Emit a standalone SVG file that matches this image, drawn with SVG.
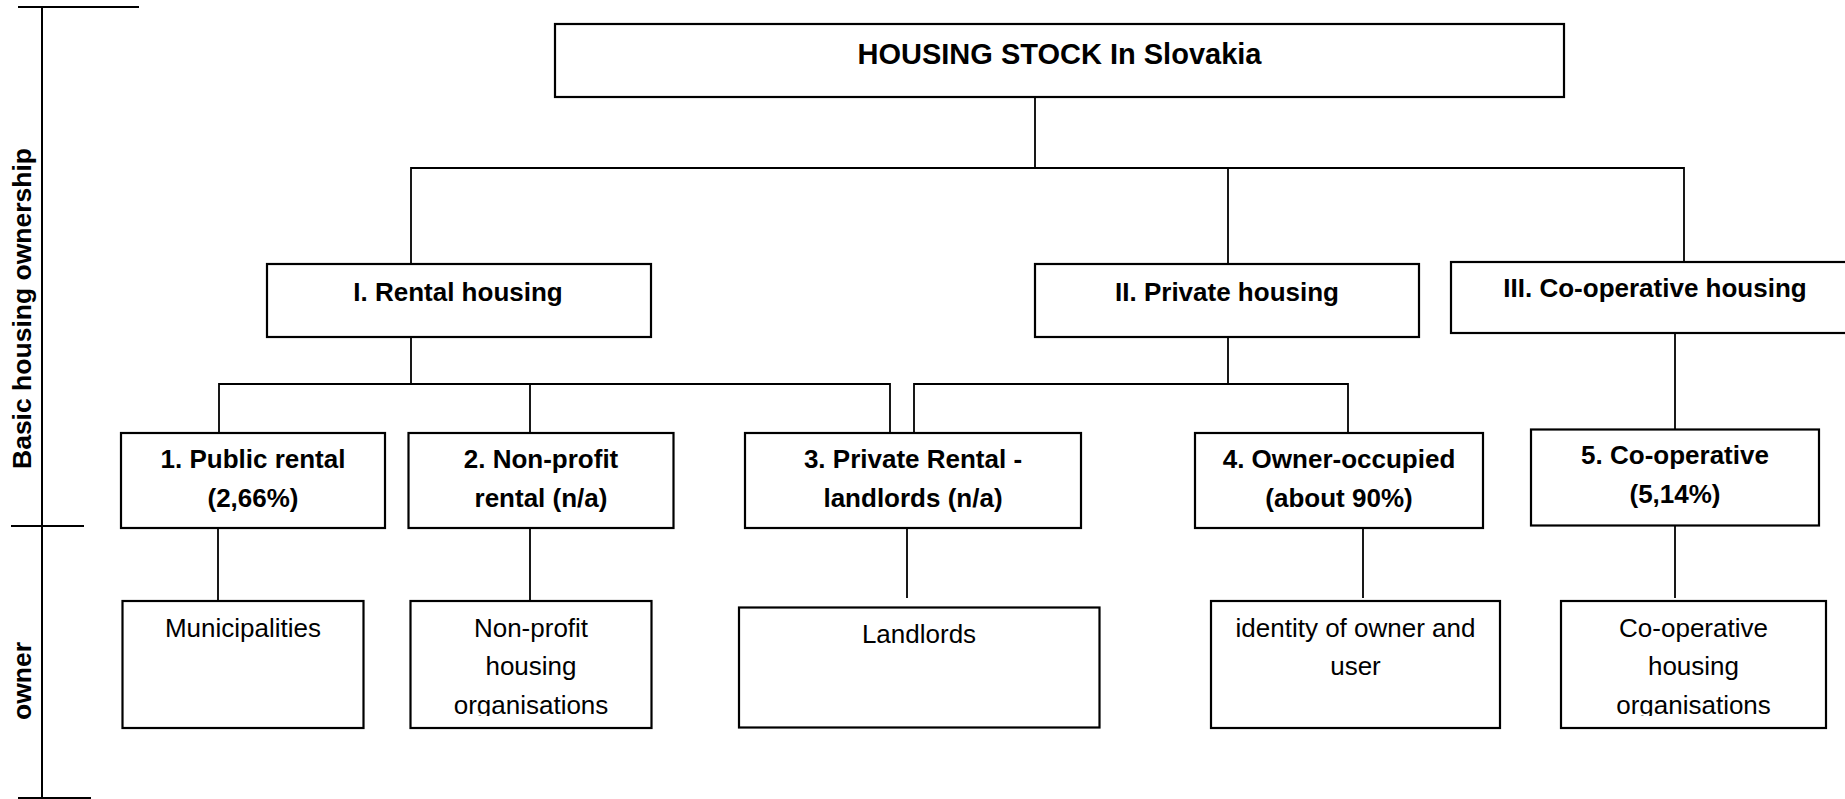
<svg xmlns="http://www.w3.org/2000/svg" width="1845" height="799" viewBox="0 0 1845 799">
<style>
.box{fill:#fff;stroke:#000;stroke-width:2.2}
.ln{fill:none;stroke:#000;stroke-width:1.8}
.ax{fill:none;stroke:#000;stroke-width:2}
.b{font-family:"Liberation Sans",Arial,sans-serif;font-weight:bold;font-size:26px;fill:#000;text-anchor:middle}
.r{font-family:"Liberation Sans",Arial,sans-serif;font-size:26px;fill:#000;text-anchor:middle}
</style>
<defs>
<clipPath id="clipLow"><rect x="0" y="590" width="1845" height="126"/></clipPath>
</defs>
<rect width="1845" height="799" fill="#fff"/>
<g id="axis">
<path class="ax" d="M42 7V799M18 7H139M11 526H84M18 798H91"/>
<text class="b" style="font-size:26.5px" transform="translate(31,308.5) rotate(-90)">Basic housing ownership</text>
<text class="b" style="font-size:26.5px" transform="translate(31,681) rotate(-90)">owner</text>
</g>
<g id="connectors">
<path class="ln" d="M1035 97V168M411 264V168H1684V265M1228 168V264"/>
<path class="ln" d="M411 337V384M219 433V384H890V433M530 384V433"/>
<path class="ln" d="M1228 337V384M914 433V384H1348V433"/>
<path class="ln" d="M1675 333V429.5"/>
<path class="ln" d="M218 528V601M530 528V601M907 525V598M1363 525V598M1675 526V598"/>
</g>
<g id="root">
<rect class="box" x="555" y="24" width="1009" height="73"/>
<text class="b" style="font-size:29px" x="1059.5" y="64">HOUSING STOCK In Slovakia</text>
</g>
<g id="rental">
<rect class="box" x="267" y="264" width="384" height="73"/>
<text class="b" x="458" y="300.5">I. Rental housing</text>
</g>
<g id="private">
<rect class="box" x="1035" y="264" width="384" height="73"/>
<text class="b" x="1227" y="300.5">II. Private housing</text>
</g>
<g id="cooperative">
<rect class="box" x="1451" y="262" width="400" height="71"/>
<text class="b" x="1655" y="296.5">III. Co-operative housing</text>
</g>
<g id="public-rental">
<rect class="box" x="121" y="433" width="264" height="95"/>
<text class="b" x="253" y="468">1. Public rental</text>
<text class="b" x="253" y="506.5">(2,66%)</text>
</g>
<g id="nonprofit-rental">
<rect class="box" x="408.5" y="433" width="265" height="95"/>
<text class="b" x="541" y="468">2. Non-profit</text>
<text class="b" x="541" y="506.5">rental (n/a)</text>
</g>
<g id="private-rental">
<rect class="box" x="745" y="433" width="336" height="95"/>
<text class="b" x="913" y="468">3. Private Rental -</text>
<text class="b" x="913" y="506.5">landlords (n/a)</text>
</g>
<g id="owner-occupied">
<rect class="box" x="1195" y="433" width="288" height="95"/>
<text class="b" x="1339" y="468">4. Owner-occupied</text>
<text class="b" x="1339" y="506.5">(about 90%)</text>
</g>
<g id="co-operative">
<rect class="box" x="1531" y="429.5" width="288" height="96"/>
<text class="b" x="1675" y="464">5. Co-operative</text>
<text class="b" x="1675" y="502.5">(5,14%)</text>
</g>
<g id="municipalities">
<rect class="box" x="122.5" y="601" width="241" height="127"/>
<text class="r" x="243" y="637">Municipalities</text>
</g>
<g id="nonprofit-orgs">
<rect class="box" x="410.5" y="601" width="241" height="127"/>
<text class="r" x="531" y="637">Non-profit</text>
<text class="r" x="531" y="675">housing</text>
<text class="r" x="531" y="713.5" clip-path="url(#clipLow)">organisations</text>
</g>
<g id="landlords">
<rect class="box" x="739" y="607.5" width="360.5" height="120"/>
<text class="r" x="919" y="642.5">Landlords</text>
</g>
<g id="identity">
<rect class="box" x="1211" y="601" width="289" height="127"/>
<text class="r" x="1355.5" y="637">identity of owner and</text>
<text class="r" x="1355.5" y="675">user</text>
</g>
<g id="coop-orgs">
<rect class="box" x="1561" y="601" width="265" height="127"/>
<text class="r" x="1693.5" y="637">Co-operative</text>
<text class="r" x="1693.5" y="675">housing</text>
<text class="r" x="1693.5" y="713.5" clip-path="url(#clipLow)">organisations</text>
</g>
</svg>
